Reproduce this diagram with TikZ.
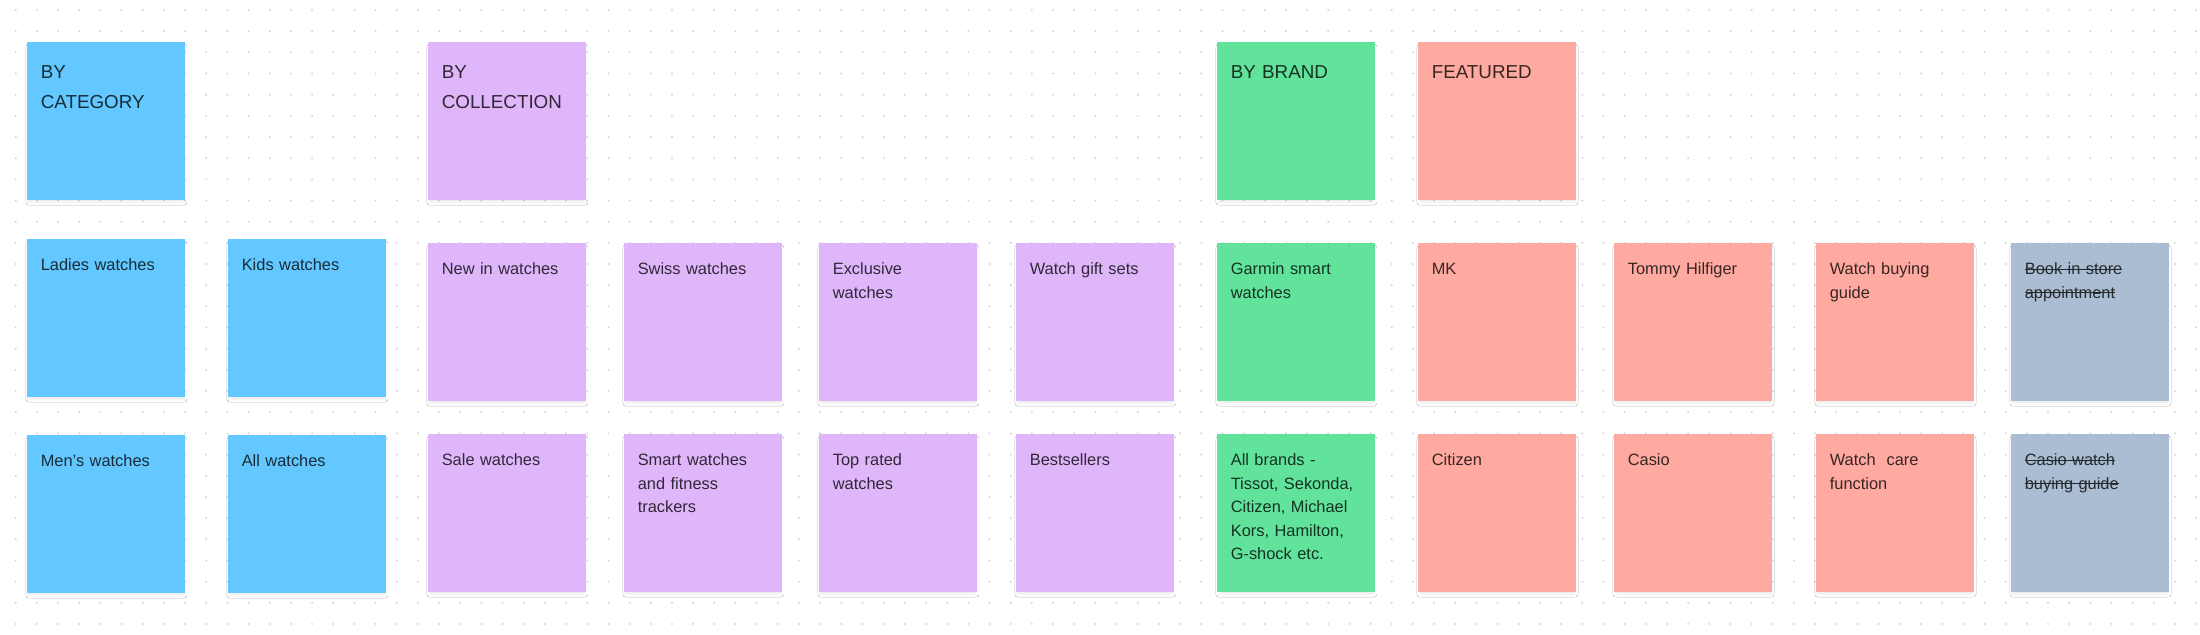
\documentclass[tikz,border=0pt]{standalone}
\usepackage{fontspec}
\setmainfont{Liberation Sans}
\usepackage{tikz}
\usetikzlibrary{positioning,shadows.blur}
\definecolor{blu}{HTML}{62C8FF}
\definecolor{vio}{HTML}{E0B6FB}
\definecolor{grn}{HTML}{61E39C}
\definecolor{red}{HTML}{FFAAA0}
\definecolor{gry}{HTML}{AABDD2}
\definecolor{dotc}{HTML}{D4D4D4}
% struck-out text
\newcommand\strk[1]{\leavevmode{\setbox0=\hbox{#1}\rlap{\rule[0.3em]{\wd0}{0.45pt}}\box0}}

\begin{document}
\begin{tikzpicture}[x=0.5pt,y=-0.5pt,
  note/.style={rectangle,fill=#1,text=#1!22!black,anchor=north west,
    minimum width=79pt,minimum height=79pt,text width=65.6pt,align=left,
    inner xsep=6.7pt,inner ysep=6.5pt,text height=9pt,text depth=57pt,
    font=\fontsize{8.2}{11.8}\selectfont,
    blur shadow={shadow xshift=0pt,shadow yshift=-1.6pt,shadow scale=0.98,
      shadow blur radius=1.6pt,shadow opacity=9}},
  head/.style={note=#1,text height=11.5pt,text depth=54.5pt,
    font=\fontsize{9.4}{14.8}\selectfont}]
\useasboundingbox (0,0) rectangle (2200,634);
\fill[white] (0,0) rectangle (2200,634);
% dotted canvas
\foreach \i in {0,...,103}
  \foreach \j in {0,...,29}
    \fill[dotc] (15.7+21.17*\i,10+21.17*\j) circle[radius=0.55pt];
% group headers
\foreach \x/\c/\n/\t in {27/blu/cat/{BY\\CATEGORY},428/vio/coll/{BY\\COLLECTION},
  1217/grn/brand/{BY BRAND},1418/red/feat/{FEATURED}}
  \node[head=\c] (\n) at (\x,42) {\t};
% sticky notes
\foreach \x/\y/\c/\n/\t in {27/239/blu/ladies/{Ladies watches},228/239/blu/kids/{Kids watches},
  428/243/vio/newin/{New in watches},624/243/vio/swiss/{Swiss watches},
  819/243/vio/excl/{Exclusive\\watches},1016/243/vio/gift/{Watch gift sets},
  1217/243/grn/garmin/{Garmin smart\\watches},1418/243/red/mk/{MK},
  1614/243/red/tommy/{Tommy Hilfiger},1816/243/red/guide/{Watch buying\\guide},
  2011/243/gry/book/{\strk{Book in store}\\\strk{appointment}},
  27/435/blu/mens/{Men’s watches},228/435/blu/all/{All watches},
  428/434/vio/sale/{Sale watches},624/434/vio/smart/{Smart watches\\and fitness\\trackers},
  819/434/vio/top/{Top rated\\watches},1016/434/vio/best/{Bestsellers},
  1217/434/grn/allbr/{All brands -\\Tissot, Sekonda,\\Citizen, Michael\\Kors, Hamilton,\\G-shock etc.},
  1418/434/red/citizen/{Citizen},1614/434/red/casio/{Casio},
  1816/434/red/care/{Watch\ \ care\\function},
  2011/434/gry/casioguide/{\strk{Casio watch}\\\strk{buying guide}}}
  \node[note=\c] (\n) at (\x,\y) {\t};
\end{tikzpicture}
\end{document}
